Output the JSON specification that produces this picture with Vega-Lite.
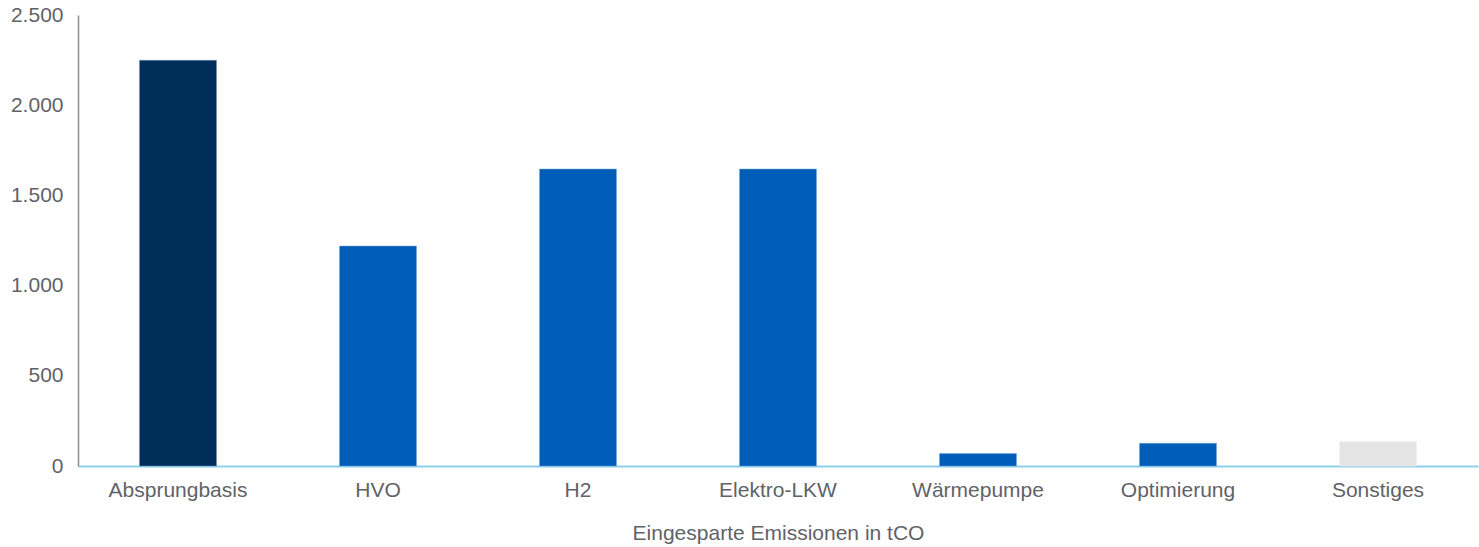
{
  "$schema": "https://vega.github.io/schema/vega-lite/v6.json",
  "width": 1400,
  "height": 451,
  "autosize": "none",
  "padding": {"left": 78, "top": 15, "right": 1, "bottom": 81},
  "background": "white",
  "config": {
    "view": {"stroke": null},
    "font": "Liberation Sans",
    "locale": {
      "number": {"decimal": ",", "thousands": ".", "grouping": [3], "currency": ["", " €"]}
    }
  },
  "data": {
    "values": [
      {"kategorie": "Absprungbasis", "emissionen": 2249, "gruppe": "basis"},
      {"kategorie": "HVO", "emissionen": 1219, "gruppe": "massnahme"},
      {"kategorie": "H2", "emissionen": 1646, "gruppe": "massnahme"},
      {"kategorie": "Elektro-LKW", "emissionen": 1646, "gruppe": "massnahme"},
      {"kategorie": "Wärmepumpe", "emissionen": 69, "gruppe": "massnahme"},
      {"kategorie": "Optimierung", "emissionen": 126, "gruppe": "massnahme"},
      {"kategorie": "Sonstiges", "emissionen": 134, "gruppe": "sonstiges"}
    ]
  },
  "mark": {"type": "bar", "width": {"band": 0.385}, "strokeWidth": 1, "strokeOpacity": 0.5},
  "encoding": {
    "x": {
      "field": "kategorie",
      "type": "nominal",
      "sort": null,
      "scale": {"paddingInner": 0, "paddingOuter": 0},
      "axis": {
        "title": "Eingesparte Emissionen in tCO",
        "titleFontSize": 21,
        "titleFontWeight": "normal",
        "titleColor": "#5f6368",
        "titlePadding": 22,
        "labelAngle": 0,
        "labelFontSize": 21,
        "labelColor": "#5f6368",
        "labelPadding": 13,
        "ticks": false,
        "domainColor": "#8ecfea",
        "domainWidth": 2
      }
    },
    "y": {
      "field": "emissionen",
      "type": "quantitative",
      "scale": {"domain": [0, 2500], "nice": false},
      "axis": {
        "title": null,
        "values": [0, 500, 1000, 1500, 2000, 2500],
        "format": ",d",
        "labelFontSize": 21,
        "labelColor": "#5f6368",
        "labelPadding": 15,
        "ticks": false,
        "grid": false,
        "domainColor": "#8a8d91",
        "domainWidth": 1.5
      }
    },
    "color": {
      "field": "gruppe",
      "type": "nominal",
      "scale": {"domain": ["basis", "massnahme", "sonstiges"], "range": ["#002e5b", "#005eb8", "#e4e4e4"]},
      "legend": null
    },
    "stroke": {
      "field": "gruppe",
      "type": "nominal",
      "scale": {"domain": ["basis", "massnahme", "sonstiges"], "range": ["#6f8fb0", "#6fa4dc", "#f0f0f0"]},
      "legend": null
    }
  }
}
